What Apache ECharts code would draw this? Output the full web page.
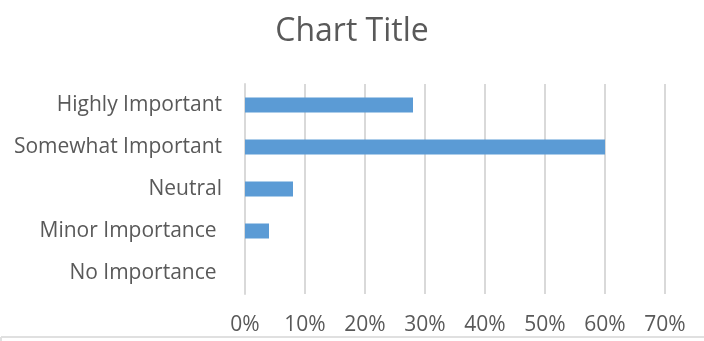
<!DOCTYPE html>
<html>
<head>
<meta charset="utf-8">
<script src="https://cdn.jsdelivr.net/npm/echarts@6/dist/echarts.min.js"></script>
<style>html,body{margin:0;padding:0;background:#fff;}#c{width:704px;height:341px;}</style>
</head>
<body>
<div id="c"></div>
<script>
var categories = ["Highly Important", "Somewhat Important", "Neutral", "Minor Importance ", "No Importance "];
var values = [0.28, 0.60, 0.08, 0.04, 0.0];
var tickMax = 0.7;
var tickStep = 0.1;

var chart = echarts.init(document.getElementById('c'), null, {renderer: 'canvas'});
chart.setOption({
  animation: false,
  backgroundColor: '#ffffff',
  title: {
    text: 'Chart Title',
    left: 'center',
    top: 11,
    textStyle: {fontFamily: 'Open Sans', fontSize: 32, fontWeight: 'normal', color: '#595959'}
  },
  grid: {left: 245, right: 39, top: 84, bottom: 47, containLabel: false},
  xAxis: {
    type: 'value',
    min: 0,
    max: tickMax,
    interval: tickStep,
    axisLine: {show: false},
    axisTick: {show: false},
    splitLine: {show: true, lineStyle: {color: '#d9d9d9', width: 2}},
    axisLabel: {
      margin: 21,
      fontFamily: 'Open Sans',
      fontSize: 21,
      color: '#595959',
      formatter: function (v) { return Math.round(v * 100) + '%'; }
    }
  },
  yAxis: {
    type: 'category',
    data: categories,
    inverse: true,
    axisLine: {show: true, lineStyle: {color: '#d9d9d9', width: 2}},
    axisTick: {show: false},
    axisLabel: {margin: 23, fontFamily: 'Open Sans', fontSize: 21, color: '#595959', padding: [3, 0, 0, 0]}
  },
  series: [{
    type: 'bar',
    data: values,
    barWidth: 15,
    itemStyle: {color: '#5B9BD5', borderWidth: 0}
  }],
  graphic: [{
    type: 'line',
    shape: {x1: 1, y1: 337, x2: 704, y2: 337},
    style: {stroke: '#e0e0e0', lineWidth: 2}
  }, {
    type: 'line',
    shape: {x1: 1, y1: 337, x2: 1, y2: 341},
    style: {stroke: '#e0e0e0', lineWidth: 2}
  }]
});
</script>
</body>
</html>
